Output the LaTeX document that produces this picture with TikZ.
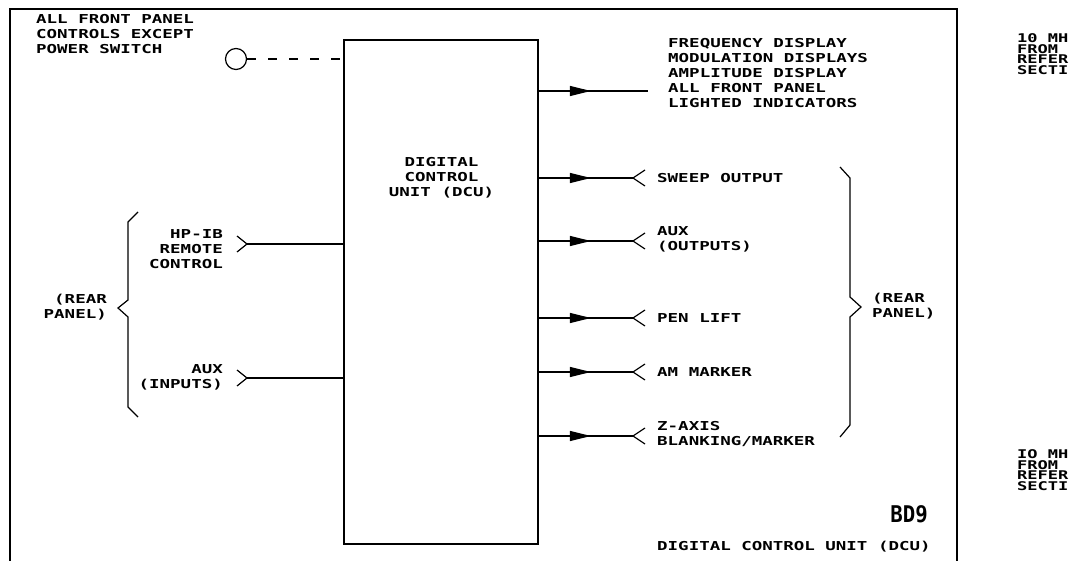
\documentclass[tikz,border=0pt]{standalone}
\usepackage{fontspec}
\newfontfamily\plotfont[FakeStretch=1.42]{DejaVu Sans Mono}
\newfontfamily\plotbold[FakeStretch=0.9]{DejaVu Sans Mono}
\usepackage{tikz}
\usetikzlibrary{arrows.meta, positioning, calc, decorations.markings}

\tikzset{
  frameline/.style={line width=2.2pt, black},
  sigline/.style={line width=1.2pt, black},
  dcubox/.style={draw, line width=1.8pt, minimum width=194pt, minimum height=504pt, inner sep=0pt},
  ctlring/.style={circle, draw, line width=1.2pt, minimum size=21pt, inner sep=0pt},
  dashline/.style={line width=1.2pt, dash pattern=on 9pt off 12pt},
  midarrow/.style={decoration={markings, mark=at position 52pt with {\arrow{Triangle[length=21pt, width=10pt]}}}, postaction={decorate}},
  lbl/.style={font=\fontsize{12.3}{14.8}\selectfont\plotfont\bfseries, inner sep=0pt, align=left},
  lblr/.style={font=\fontsize{12.3}{14.8}\selectfont\plotfont\bfseries, inner sep=0pt, align=right},
  cutlbl/.style={font=\fontsize{12}{10.6}\selectfont\plotfont\bfseries, inner sep=0pt, align=left, anchor=west}
}

\begin{document}
\begin{tikzpicture}[x=1pt, y=-1pt]
  \useasboundingbox (0,0) rectangle (1071,561);
  \fill[white] (0,0) rectangle (1071,561);

  % Outer frame (open at the bottom)
  \draw[frameline] (10,561) -- (10,9) -- (957,9) -- (957,561);

  % --- DCU block ---
  \node[dcubox] (dcu) at (441,292) {};
  \node[lbl, align=center] (dculbl) at (441.5,178) {DIGITAL\\CONTROL\\UNIT (DCU)};

  % --- Front panel controls ---
  \node[lbl, anchor=west] (ctltxt) at (36,34) {ALL FRONT PANEL\\CONTROLS EXCEPT\\POWER SWITCH};
  \node[ctlring] (ctl) at (236,59) {};
  \draw[dashline] (ctl.east) -- (dcu.west |- ctl.east);

  % --- Front panel displays ---
  \coordinate (disp) at (648,91);
  \draw[sigline, midarrow] (dcu.east |- disp) -- (disp);
  \node[lbl, anchor=west] (disptxt) at (668,73) {FREQUENCY DISPLAY\\MODULATION DISPLAYS\\AMPLITUDE DISPLAY\\ALL FRONT PANEL\\LIGHTED INDICATORS};

  % --- Rear panel inputs ---
  \coordinate (hpib) at (247,244);
  \draw[sigline] (hpib) -- (dcu.west |- hpib);
  \draw[sigline] ($(hpib)+(-10,-8)$) -- (hpib) -- ++(-10,8);
  \node[lblr, anchor=east] (hpibtxt) at (223,249) {HP-IB\\REMOTE\\CONTROL};

  \coordinate (auxin) at (247,378);
  \draw[sigline] (auxin) -- (dcu.west |- auxin);
  \draw[sigline] ($(auxin)+(-10,-8)$) -- (auxin) -- ++(-10,8);
  \node[lblr, anchor=east] (auxintxt) at (223,377) {AUX\\(INPUTS)};

  % left brace
  \draw[sigline] (138,212) -- (128,222) -- (128,300) -- (118,308) -- (128,317) -- (128,407) -- (138,417);
  \node[lblr, anchor=east] (rearin) at (107,307) {(REAR\\PANEL)};

  % --- Rear panel outputs ---
  \coordinate (sweep) at (633,178);
  \draw[sigline, midarrow] (dcu.east |- sweep) -- (sweep);
  \draw[sigline] ($(sweep)+(12,-8)$) -- (sweep) -- ++(12,8);
  \node[lbl, anchor=west] (sweeptxt) at (657,178) {SWEEP OUTPUT};

  \coordinate (auxout) at (633,241);
  \draw[sigline, midarrow] (dcu.east |- auxout) -- (auxout);
  \draw[sigline] ($(auxout)+(12,-8)$) -- (auxout) -- ++(12,8);
  \node[lbl, anchor=west] (auxouttxt) at (657,239) {AUX\\(OUTPUTS)};

  \coordinate (pen) at (633,318);
  \draw[sigline, midarrow] (dcu.east |- pen) -- (pen);
  \draw[sigline] ($(pen)+(12,-8)$) -- (pen) -- ++(12,8);
  \node[lbl, anchor=west] (pentxt) at (657,318) {PEN LIFT};

  \coordinate (amm) at (633,372);
  \draw[sigline, midarrow] (dcu.east |- amm) -- (amm);
  \draw[sigline] ($(amm)+(12,-8)$) -- (amm) -- ++(12,8);
  \node[lbl, anchor=west] (ammtxt) at (657,372) {AM MARKER};

  \coordinate (zax) at (633,436);
  \draw[sigline, midarrow] (dcu.east |- zax) -- (zax);
  \draw[sigline] ($(zax)+(12,-8)$) -- (zax) -- ++(12,8);
  \node[lbl, anchor=west] (zaxtxt) at (657,434) {Z-AXIS\\BLANKING/MARKER};

  % right brace
  \draw[sigline] (840,167) -- (850,178) -- (850,297) -- (861,307) -- (850,317) -- (850,425) -- (840,437);
  \node[lbl, anchor=west] (rearout) at (872,306) {(REAR\\PANEL)};

  % --- Title block ---
  \node[anchor=east, inner sep=0pt, font=\fontsize{23}{23}\selectfont\plotbold\bfseries] (bd) at (928,514) {BD9};
  \node[lbl, anchor=west] (title) at (657,547) {DIGITAL CONTROL UNIT (DCU)};

  % --- Next page, only its edge shows ---
  \node[cutlbl] (refa) at (1017,54) {10 MH\\FROM\\REFER\\SECTI};
  \node[cutlbl] (refb) at (1017,470) {IO MH\\FROM\\REFER\\SECTI};
\end{tikzpicture}
\end{document}
